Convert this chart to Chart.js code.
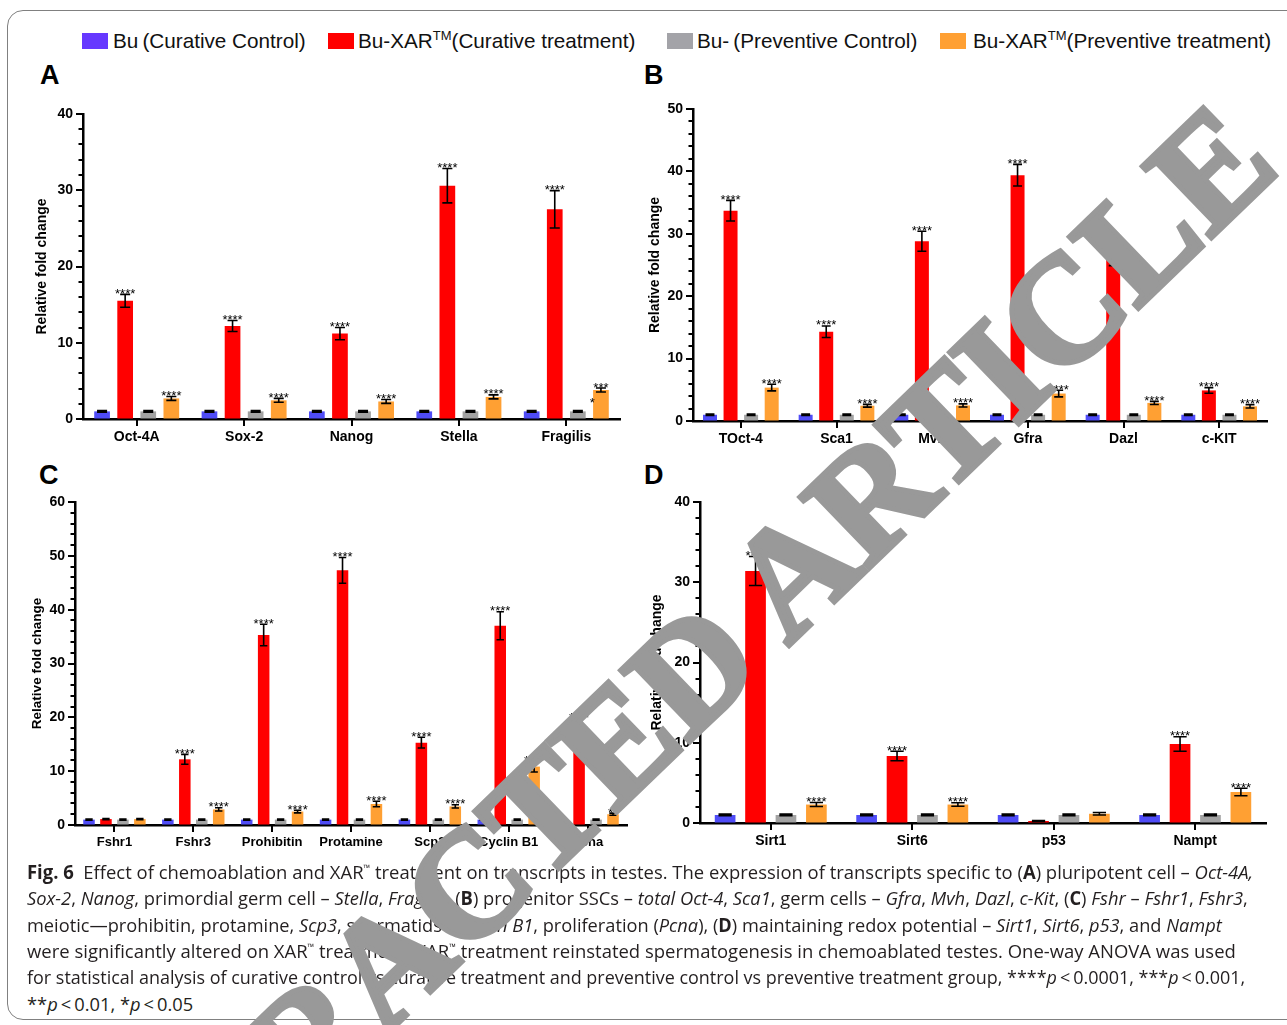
<!DOCTYPE html>
<html><head><meta charset="utf-8">
<script src="https://cdn.jsdelivr.net/npm/chart.js@4.4.0/dist/chart.umd.min.js"></script>
<style>
html,body{margin:0;padding:0;background:#fff;width:1287px;height:1025px;overflow:hidden;position:relative;font-family:'Liberation Sans',Arial,sans-serif}
.frame{position:absolute;left:7px;top:10px;width:1320px;height:1010px;border:1px solid #808080;border-radius:16px;box-sizing:border-box}
.panel{position:absolute}
.letter{position:absolute;font:bold 27px 'Liberation Sans',Arial,sans-serif;color:#000;line-height:1}
.leg{position:absolute;top:29px;font:20.7px 'Liberation Sans',Arial,sans-serif;line-height:24px;white-space:nowrap;color:#111}
.leg sup{font-size:13px;vertical-align:0;position:relative;top:-8px}
.sw{position:absolute;top:33px;width:26px;height:16px}
.cap{position:absolute;left:27px;white-space:nowrap;font:19px 'Liberation Sans Narrow','Open Sans',sans-serif;transform-origin:0 0;color:#231f20;line-height:22px}
.cap sup{font-size:9px;vertical-align:0;position:relative;top:-8px}
#wm{position:absolute;font:bold 152px 'Liberation Serif','DejaVu Serif',serif;color:#999;-webkit-text-stroke:5px #999;white-space:nowrap;line-height:1;z-index:10}
</style></head>
<body>
<div class="frame"></div>

<div class="sw" style="left:82px;background:#6638FF"></div><div class="leg" style="left:113px">Bu&#8201;(Curative Control)</div>
<div class="sw" style="left:328px;background:#FF0000"></div><div class="leg" style="left:358px">Bu-XAR<sup>TM</sup>(Curative treatment)</div>
<div class="sw" style="left:667px;background:#A3A3A8"></div><div class="leg" style="left:697px">Bu-&#8201;(Preventive Control)</div>
<div class="sw" style="left:940px;background:#FFA033"></div><div class="leg" style="left:973px">Bu-XAR<sup>TM</sup>(Preventive treatment)</div>

<div class="letter" style="left:40px;top:62px">A</div>
<div class="letter" style="left:644px;top:62px">B</div>
<div class="letter" style="left:39px;top:462px">C</div>
<div class="letter" style="left:644px;top:462px">D</div>

<div class="panel" id="pA"><canvas id="cA"></canvas></div>
<div class="panel" id="pB"><canvas id="cB"></canvas></div>
<div class="panel" id="pC"><canvas id="cC"></canvas></div>
<div class="panel" id="pD"><canvas id="cD"></canvas></div>

<div class="cap" id="l1" style="top:861px"><b>Fig. 6</b>&nbsp; Effect of chemoablation and XAR<sup>™</sup> treatment on transcripts in testes. The expression of transcripts specific to (<b>A</b>) pluripotent cell – <i>Oct-4A,</i></div>
<div class="cap" id="l2" style="top:887px"><i>Sox-2</i>, <i>Nanog</i>, primordial germ cell – <i>Stella</i>, <i>Fragilis</i>, (<b>B</b>) progenitor SSCs – <i>total Oct-4</i>, <i>Sca1</i>, germ cells – <i>Gfra</i>, <i>Mvh</i>, <i>Dazl</i>, <i>c-Kit</i>, (<b>C</b>) <i>Fshr</i> – <i>Fshr1</i>, <i>Fshr3</i>,</div>
<div class="cap" id="l3" style="top:914px">meiotic—prohibitin, protamine, <i>Scp3</i>, spermatids – <i>Cyclin B1</i>, proliferation (<i>Pcna</i>), (<b>D</b>) maintaining redox potential – <i>Sirt1</i>, <i>Sirt6</i>, <i>p53</i>, and <i>Nampt</i></div>
<div class="cap" id="l4" style="top:940px">were significantly altered on XAR<sup>™</sup> treatment. XAR<sup>™</sup> treatment reinstated spermatogenesis in chemoablated testes. One-way ANOVA was used</div>
<div class="cap" id="l5" style="top:966px">for statistical analysis of curative control vs curative treatment and preventive control vs preventive treatment group, ****<i>p</i>&#8201;&lt;&#8201;0.0001, ***<i>p</i>&#8201;&lt;&#8201;0.001,</div>
<div class="cap" id="l6" style="top:993px">**<i>p</i>&#8201;&lt;&#8201;0.01, *<i>p</i>&#8201;&lt;&#8201;0.05</div>

<div id="wm"><span>RETRACTED ARTICL</span><span id="wmE">E</span></div>

<script>
// ---------- DATA ----------
const seriesNames = ['Bu (Curative Control)', 'Bu-XAR(Curative treatment)', 'Bu- (Preventive Control)', 'Bu-XAR(Preventive treatment)'];
const seriesColors = ['#4F4CF7', '#FF0000', '#A3A3A3', '#FFA033'];
const yTitle = 'Relative fold change';

// Panel A
const catsA = ['Oct-4A', 'Sox-2', 'Nanog', 'Stella', 'Fragilis'];
const curCtrlA = [1, 1, 1, 1, 1];
const curTreatA = [15.5, 12.2, 11.2, 30.6, 27.5];
const prevCtrlA = [1, 1, 1, 1, 1];
const prevTreatA = [2.7, 2.45, 2.3, 2.9, 3.8];
const curCtrlErrA = [0.1, 0.1, 0.1, 0.1, 0.1];
const curTreatErrA = [0.85, 0.72, 0.8, 2.25, 2.45];
const prevCtrlErrA = [0.1, 0.1, 0.1, 0.1, 0.1];
const prevTreatErrA = [0.26, 0.25, 0.25, 0.26, 0.26];
const curStarsA = ['****', '****', '****', '****', '****'];
const prevStarsA = ['****', '****', '****', '****', '***\n*'];
const yTicksA = [0, 10, 20, 30, 40];

// Panel B
const catsB = ['TOct-4', 'Sca1', 'Mvh', 'Gfra', 'Dazl', 'c-KIT'];
const curCtrlB = [1, 1, 1, 1, 1, 1];
const curTreatB = [33.7, 14.3, 28.8, 39.4, 26.4, 4.9];
const prevCtrlB = [1, 1, 1, 1, 1, 1];
const prevTreatB = [5.35, 2.45, 2.5, 4.4, 2.9, 2.35];
const curCtrlErrB = [0.1, 0.1, 0.1, 0.1, 0.1, 0.1];
const curTreatErrB = [1.65, 0.93, 1.6, 1.73, 1.5, 0.45];
const prevCtrlErrB = [0.1, 0.1, 0.1, 0.1, 0.1, 0.1];
const prevTreatErrB = [0.53, 0.22, 0.25, 0.53, 0.25, 0.27];
const curStarsB = ['****', '****', '****', '****', '****', '****'];
const prevStarsB = ['****', '****', '****', '****', '****', '****'];
const yTicksB = [0, 10, 20, 30, 40, 50];

// Panel C
const catsC = ['Fshr1', 'Fshr3', 'Prohibitin', 'Protamine', 'Scp3', 'Cyclin B1', 'Pcna'];
const curCtrlC = [1, 1, 1, 1, 1, 1, 1];
const curTreatC = [1.1, 12.2, 35.3, 47.3, 15.3, 37.0, 18.6];
const prevCtrlC = [1, 1, 1, 1, 1, 1, 1];
const prevTreatC = [1.1, 2.9, 2.5, 3.9, 3.45, 10.85, 2.0];
const curCtrlErrC = [0.1, 0.1, 0.1, 0.1, 0.1, 0.1, 0.1];
const curTreatErrC = [0.1, 0.92, 2.0, 2.4, 1.0, 2.6, 1.2];
const prevCtrlErrC = [0.1, 0.1, 0.1, 0.1, 0.1, 0.1, 0.1];
const prevTreatErrC = [0.1, 0.3, 0.25, 0.5, 0.3, 1.0, 0.2];
const curStarsC = ['', '****', '****', '****', '****', '****', '****'];
const prevStarsC = ['', '****', '****', '****', '****', '****', '**'];
const yTicksC = [0, 10, 20, 30, 40, 50, 60];

// Panel D
const catsD = ['Sirt1', 'Sirt6', 'p53', 'Nampt'];
const curCtrlD = [1, 1, 1, 1];
const curTreatD = [31.4, 8.35, 0.25, 9.85];
const prevCtrlD = [1, 1, 1, 1];
const prevTreatD = [2.3, 2.3, 1.15, 3.86];
const curCtrlErrD = [0.1, 0.1, 0.1, 0.1];
const curTreatErrD = [1.8, 0.6, 0.05, 0.9];
const prevCtrlErrD = [0.1, 0.1, 0.1, 0.1];
const prevTreatErrD = [0.25, 0.22, 0.15, 0.47];
const curStarsD = ['****', '****', '', '****'];
const prevStarsD = ['****', '****', '', '****'];
const yTicksD = [0, 10, 20, 30, 40];

// ---------- RENDER ----------
const FONT = "'Liberation Sans', Arial, sans-serif";

const extrasPlugin = {
  id: 'extras',
  afterDraw(chart) {
    const ctx = chart.ctx, xs = chart.scales.x, ys = chart.scales.y, area = chart.chartArea;
    ctx.save();
    chart.data.datasets.forEach((ds, i) => {
      const meta = chart.getDatasetMeta(i);
      meta.data.forEach((bar, j) => {
        const v = ds.data[j], e = ds.errs[j];
        const cx = bar.x, hw = Math.max(3, bar.width * 0.32);
        const yt = ys.getPixelForValue(v + e), yb = ys.getPixelForValue(Math.max(0, v - e));
        ctx.strokeStyle = '#000'; ctx.lineWidth = 1.6;
        ctx.beginPath();
        ctx.moveTo(cx, yt); ctx.lineTo(cx, yb);
        ctx.moveTo(cx - hw, yt); ctx.lineTo(cx + hw, yt);
        ctx.moveTo(cx - hw, yb); ctx.lineTo(cx + hw, yb);
        ctx.stroke();
        const s = ds.stars[j];
        if (s) {
          const parts = s.split('\n');
          ctx.fillStyle = '#000'; ctx.font = '13px ' + FONT; ctx.textAlign = 'center'; ctx.textBaseline = 'alphabetic';
          ctx.fillText(parts[0], cx, yt + 3.5);
          if (parts[1]) ctx.fillText(parts[1], cx - bar.width * 0.55, yt + 19);
        }
      });
    });
    ctx.strokeStyle = '#000'; ctx.lineWidth = 2;
    for (let v = ys.min; v <= ys.max + 1e-9; v += 2) {
      const py = Math.round(ys.getPixelForValue(v));
      const len = (Math.round(v) % 10 === 0) ? 7 : 4.5;
      ctx.beginPath(); ctx.moveTo(area.left, py); ctx.lineTo(area.left - len, py); ctx.stroke();
    }
    for (let i = 0; i < chart.data.labels.length; i++) {
      const px = Math.round(xs.getPixelForValue(i));
      ctx.beginPath(); ctx.moveTo(px, area.bottom); ctx.lineTo(px, area.bottom + 7); ctx.stroke();
    }
    ctx.restore();
  }
};

function makeDatasets(vals, errs, stars) {
  return vals.map((d, k) => ({
    label: seriesNames[k], data: d, errs: errs[k], stars: stars[k],
    backgroundColor: seriesColors[k], borderWidth: 0,
    categoryPercentage: 0.86, barPercentage: 0.68
  }));
}

function makePanel(pid, cid, cfg) {
  const { L, T, R, B, yW, xH, ymax, ticks, labelSize, titleSize } = cfg;
  const padL = 75, padT = 22, padR = 12, padB = 45;
  const w = R - L + padL + padR, h = B - T + padT + padB;
  const p = document.getElementById(pid);
  p.style.left = (L - padL) + 'px'; p.style.top = (T - padT) + 'px';
  p.style.width = w + 'px'; p.style.height = h + 'px';
  const c = document.getElementById(cid);
  c.width = w; c.height = h; c.style.width = w + 'px'; c.style.height = h + 'px';
  new Chart(c, {
    type: 'bar',
    data: { labels: cfg.cats, datasets: makeDatasets(cfg.vals, cfg.errs, cfg.stars) },
    options: {
      responsive: false, animation: false, events: [],
      layout: { padding: { left: padL - yW, top: padT, right: padR, bottom: padB - xH } },
      plugins: { legend: { display: false }, tooltip: { enabled: false } },
      scales: {
        x: {
          z: 1,
          grid: { display: true, drawOnChartArea: false, drawTicks: true, tickLength: 7, color: 'rgba(0,0,0,0)' },
          border: { display: true, color: '#000', width: 2.5 },
          ticks: { color: '#000', font: { family: FONT, size: labelSize, weight: 'bold' }, padding: 3, maxRotation: 0, autoSkip: false },
          afterFit: s => { s.height = xH; }
        },
        y: {
          z: 1, min: 0, max: ymax,
          afterBuildTicks: s => { s.ticks = ticks.map(v => ({ value: v })); },
          grid: { display: true, drawOnChartArea: false, drawTicks: true, tickLength: 7, color: 'rgba(0,0,0,0)' },
          border: { display: true, color: '#000', width: 2.5 },
          ticks: { color: '#000', font: { family: FONT, size: 14, weight: 'bold' }, padding: 3 },
          title: { display: true, text: yTitle, color: '#000', font: { family: FONT, size: titleSize, weight: 'bold' }, padding: { top: 0, bottom: 0 } },
          afterFit: s => { s.width = yW; }
        }
      }
    },
    plugins: [extrasPlugin]
  });
}

makePanel('pA', 'cA', { L: 83, T: 114, R: 620, B: 419, yW: 49, xH: 30, ymax: 40, ticks: yTicksA, labelSize: 14, titleSize: 14,
  cats: catsA, vals: [curCtrlA, curTreatA, prevCtrlA, prevTreatA],
  errs: [curCtrlErrA, curTreatErrA, prevCtrlErrA, prevTreatErrA],
  stars: [[], curStarsA, [], prevStarsA] });
makePanel('pB', 'cB', { L: 693, T: 109, R: 1267, B: 421, yW: 46, xH: 30, ymax: 50, ticks: yTicksB, labelSize: 14, titleSize: 14,
  cats: catsB, vals: [curCtrlB, curTreatB, prevCtrlB, prevTreatB],
  errs: [curCtrlErrB, curTreatErrB, prevCtrlErrB, prevTreatErrB],
  stars: [[], curStarsB, [], prevStarsB] });
makePanel('pC', 'cC', { L: 75, T: 502, R: 627, B: 825, yW: 46, xH: 30, ymax: 60, ticks: yTicksC, labelSize: 13, titleSize: 13.5,
  cats: catsC, vals: [curCtrlC, curTreatC, prevCtrlC, prevTreatC],
  errs: [curCtrlErrC, curTreatErrC, prevCtrlErrC, prevTreatErrC],
  stars: [[], curStarsC, [], prevStarsC] });
makePanel('pD', 'cD', { L: 700, T: 502, R: 1266, B: 823, yW: 51, xH: 30, ymax: 40, ticks: yTicksD, labelSize: 14, titleSize: 14,
  cats: catsD, vals: [curCtrlD, curTreatD, prevCtrlD, prevTreatD],
  errs: [curCtrlErrD, curTreatErrD, prevCtrlErrD, prevTreatErrD],
  stars: [[], curStarsD, [], prevStarsD] });

function layoutText() {
  const targets = { l1: 1253, l2: 1248, l3: 1222, l4: 1236, l5: 1245 };
  let sum = 0, n = 0;
  for (const id in targets) {
    const el = document.getElementById(id);
    el.style.transform = 'none';
    const f = (targets[id] - 27) / el.scrollWidth;
    el.style.transform = 'scaleX(' + f + ')';
    sum += f; n++;
  }
  document.getElementById('l6').style.transform = 'scaleX(' + (sum / n) + ')';
  const wm = document.getElementById('wm');
  const e = document.getElementById('wmE');
  const ecx = e.offsetLeft + e.offsetWidth / 2;
  const hh = wm.offsetHeight / 2;
  wm.style.left = (1210 - ecx) + 'px';
  wm.style.top = (168 - hh) + 'px';
  wm.style.transformOrigin = ecx + 'px ' + hh + 'px';
  wm.style.transform = 'rotate(-44deg)';
}
layoutText();
if (document.fonts && document.fonts.ready) document.fonts.ready.then(layoutText);
</script>
</body></html>
